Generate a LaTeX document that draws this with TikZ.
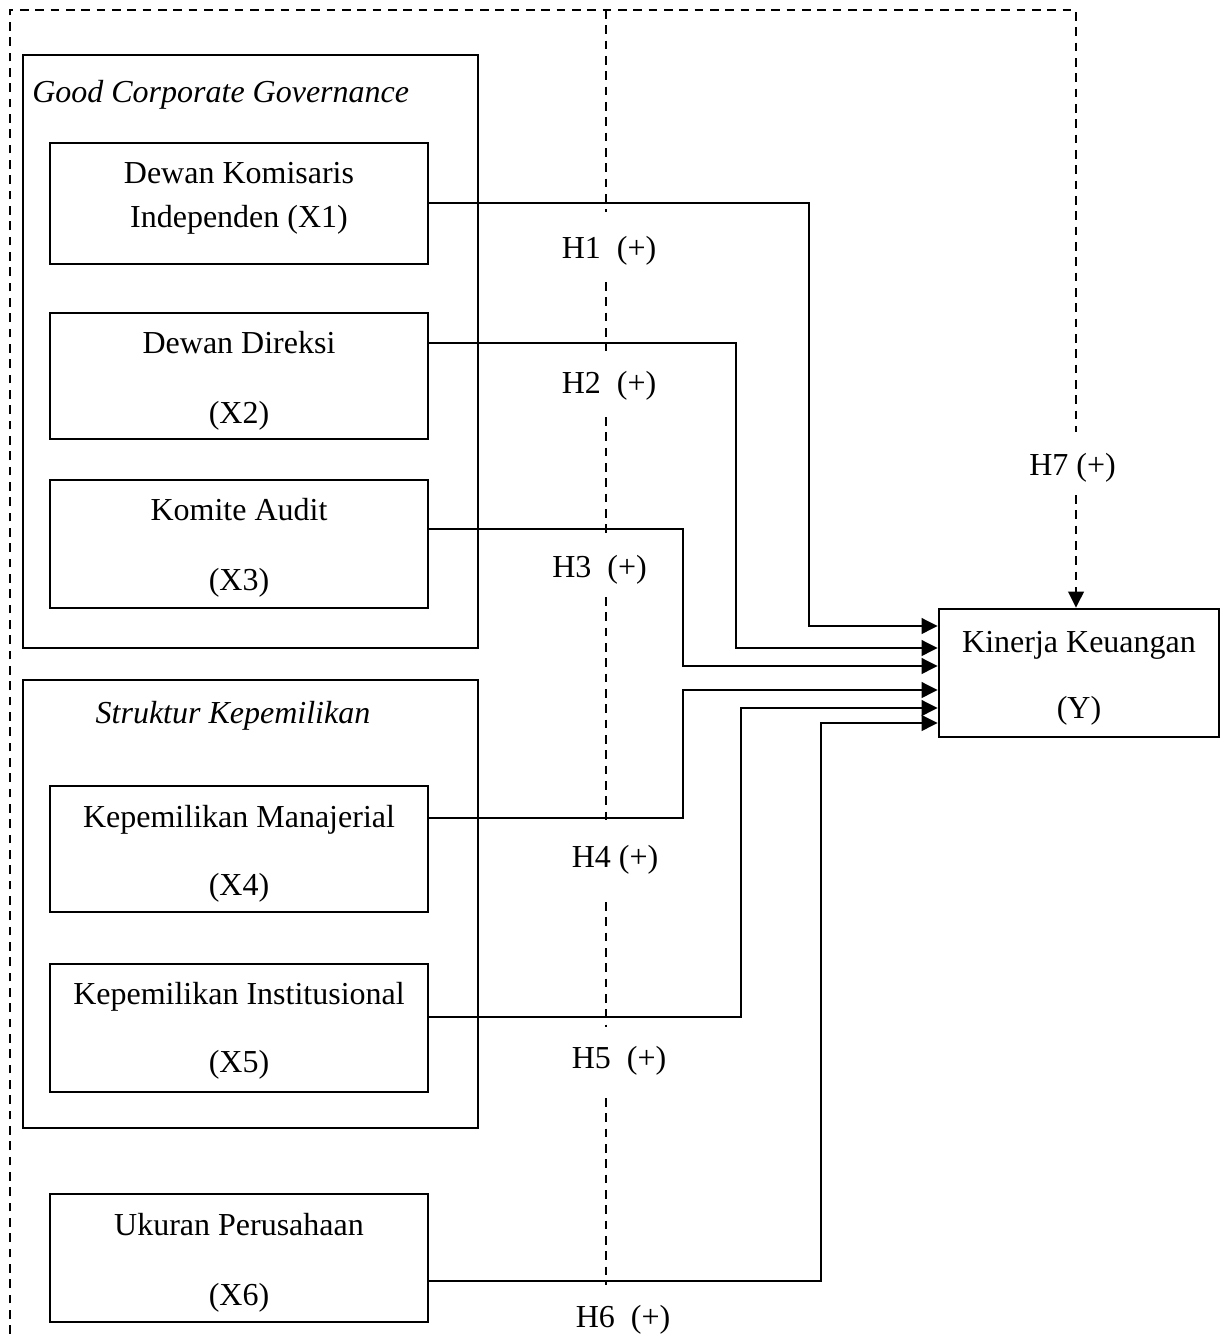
\documentclass[tikz,border=0pt]{standalone}
\usepackage{fontspec}
\setmainfont{Liberation Serif}
\usetikzlibrary{arrows.meta}
\begin{document}
\begin{tikzpicture}[x=0.75pt,y=-0.75pt,
  ln/.style={line width=1.9pt},
  dsh/.style={line width=1.9pt, dash pattern=on 6.5pt off 5pt},
  box/.style={draw, line width=1.9pt, minimum width=283.5pt, inner sep=0pt},
  group/.style={draw, line width=1.9pt, inner sep=0pt, minimum width=341.25pt},
  txt/.style={font=\fontsize{24}{28}\selectfont, inner sep=0pt, anchor=base},
  ttl/.style={font=\fontsize{24}{28}\selectfont\itshape, inner sep=0pt, anchor=base},
  hyp/.style={font=\fontsize{24}{28}\selectfont, inner sep=0pt, anchor=base},
  tip/.style={-{Triangle[length=12pt,width=11.5pt]}},
  arr/.style={ln, tip}]
\useasboundingbox (0,0) rectangle (1228,1334);

% group boxes
\node[group, minimum height=444.75pt] (gcg) at (250.5,351.5) {};
\node[group, minimum height=336pt] (sk) at (250.5,904) {};
\node[ttl, anchor=base west] (gcgt) at (32,103) {Good Corporate Governance};
\node[ttl] (skt) at (233,723) {Struktur Kepemilikan};

% variable boxes
\node[box, minimum height=90.75pt] (x1) at (239,203.5) {};
\node[box, minimum height=94.5pt] (x2) at (239,376) {};
\node[box, minimum height=96pt] (x3) at (239,544) {};
\node[box, minimum height=94.5pt] (x4) at (239,849) {};
\node[box, minimum height=96pt] (x5) at (239,1028) {};
\node[box, minimum height=96pt] (x6) at (239,1258) {};
\node[box, minimum width=210pt, minimum height=96pt] (y) at (1079,673) {};

% box texts
\node[txt] (t1a) at (239,183) {Dewan Komisaris};
\node[txt] (t1b) at (239,227) {Independen (X1)};
\node[txt] (t2a) at (239,353) {Dewan Direksi};
\node[txt] (t2b) at (239,423) {(X2)};
\node[txt] (t3a) at (239,520) {Komite Audit};
\node[txt] (t3b) at (239,590) {(X3)};
\node[txt] (t4a) at (239,827) {Kepemilikan Manajerial};
\node[txt] (t4b) at (239,895) {(X4)};
\node[txt] (t5a) at (239,1004) {Kepemilikan Institusional};
\node[txt] (t5b) at (239,1072) {(X5)};
\node[txt] (t6a) at (239,1235) {Ukuran Perusahaan};
\node[txt] (t6b) at (239,1305) {(X6)};
\node[txt] (tya) at (1079,652) {Kinerja Keuangan};
\node[txt] (tyb) at (1079,718) {(Y)};

% dashed frame and lines
\coordinate (tl) at (10,10);
\coordinate (tr) at (1076,10);
\coordinate (bl) at (10,1334);
\draw[dsh] (bl) -- (tl) -- (tr) -- (1076,432);
\draw[dsh, tip] (1076,495) -- (y.north -| tr);
\draw[dsh] (606,10) -- (606,212)
           (606,282) -- (606,351)
           (606,417) -- (606,533)
           (606,597) -- (606,820)
           (606,902) -- (606,1027)
           (606,1098) -- (606,1285);

% connector rows
\coordinate (s1) at (0,203);
\coordinate (s2) at (0,343);
\coordinate (s3) at (0,529);
\coordinate (s4) at (0,818);
\coordinate (s5) at (0,1017);
\coordinate (s6) at (0,1281);
\coordinate (k1) at (809,626);
\coordinate (k2) at (736,648);
\coordinate (k3) at (683,666);
\coordinate (k4) at (683,690);
\coordinate (k5) at (741,708);
\coordinate (k6) at (821,723);

\draw[arr] (x1.east |- s1) -| (k1) -- (y.west |- k1);
\draw[arr] (x2.east |- s2) -| (k2) -- (y.west |- k2);
\draw[arr] (x3.east |- s3) -| (k3) -- (y.west |- k3);
\draw[arr] (x4.east |- s4) -| (k4) -- (y.west |- k4);
\draw[arr] (x5.east |- s5) -| (k5) -- (y.west |- k5);
\draw[arr] (x6.east |- s6) -| (k6) -- (y.west |- k6);

% hypothesis labels
\node[hyp] (h1) at (609,258) {H1\ \ (+)};
\node[hyp] (h2) at (609,393) {H2\ \ (+)};
\node[hyp] (h3) at (599.5,577) {H3\ \ (+)};
\node[hyp] (h4) at (615,867) {H4 (+)};
\node[hyp] (h5) at (619,1068) {H5\ \ (+)};
\node[hyp] (h6) at (623,1327) {H6\ \ (+)};
\node[hyp] (h7) at (1072.5,475) {H7 (+)};
\end{tikzpicture}
\end{document}
